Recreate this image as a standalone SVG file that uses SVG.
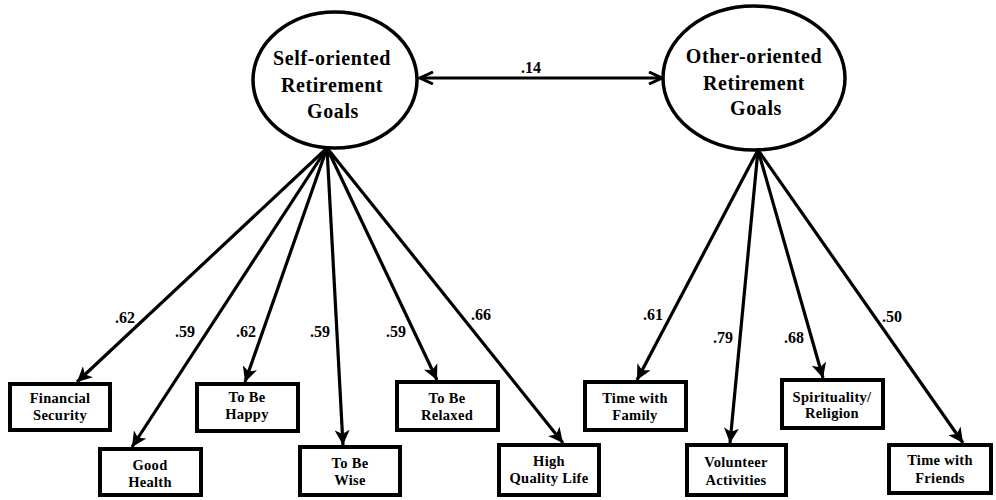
<svg xmlns="http://www.w3.org/2000/svg" width="996" height="500" viewBox="0 0 996 500">
<style>
.bg{fill:#fff}
.lat{fill:#fff;stroke:#000;stroke-width:3.5}
.box{fill:#fff;stroke:#000;stroke-width:4}
.lt{font-family:"Liberation Serif","Times New Roman",serif;font-weight:bold;font-size:20px;letter-spacing:0.6px;text-anchor:middle;fill:#000}
.bt{font-family:"Liberation Serif","Times New Roman",serif;font-weight:bold;font-size:14.5px;letter-spacing:0.3px;text-anchor:middle;fill:#000}
.cf{font-family:"Liberation Serif","Times New Roman",serif;font-weight:bold;font-size:16px;text-anchor:middle;fill:#000}
.ln{fill:none;stroke:#000;stroke-width:3.2}
</style>
<defs>
<marker id="ah" markerUnits="userSpaceOnUse" markerWidth="17" markerHeight="15" refX="15" refY="7.5" orient="auto">
<path d="M0,0 L15,7.5 L0,15 L4,7.5 z" fill="#000"/>
</marker>
<marker id="ahs" markerUnits="userSpaceOnUse" markerWidth="16" markerHeight="14" refX="14" refY="7" orient="auto-start-reverse">
<path d="M1,1 L14,7 L1,13" fill="none" stroke="#000" stroke-width="3"/>
</marker>
</defs>
<rect class="bg" width="996" height="500"/>
<g id="connectors">
<line class="ln" x1="420" y1="78" x2="662" y2="78" marker-start="url(#ahs)" marker-end="url(#ahs)"/>
<text class="cf" x="531" y="73">.14</text>
<line class="ln" x1="327" y1="148" x2="77" y2="382" marker-end="url(#ah)"/>
<line class="ln" x1="327" y1="148" x2="132" y2="447" marker-end="url(#ah)"/>
<line class="ln" x1="327" y1="148" x2="245" y2="382" marker-end="url(#ah)"/>
<line class="ln" x1="327" y1="148" x2="343" y2="445" marker-end="url(#ah)"/>
<line class="ln" x1="327" y1="148" x2="437" y2="380" marker-end="url(#ah)"/>
<line class="ln" x1="327" y1="148" x2="563" y2="443" marker-end="url(#ah)"/>
<line class="ln" x1="758" y1="150" x2="637" y2="380" marker-end="url(#ah)"/>
<line class="ln" x1="758" y1="150" x2="730" y2="443" marker-end="url(#ah)"/>
<line class="ln" x1="758" y1="150" x2="823" y2="378" marker-end="url(#ah)"/>
<line class="ln" x1="758" y1="150" x2="963" y2="443" marker-end="url(#ah)"/>
<text class="cf" x="125" y="323">.62</text>
<text class="cf" x="185" y="337">.59</text>
<text class="cf" x="246" y="337">.62</text>
<text class="cf" x="320" y="337">.59</text>
<text class="cf" x="396" y="337">.59</text>
<text class="cf" x="481" y="320">.66</text>
<text class="cf" x="653" y="320">.61</text>
<text class="cf" x="723" y="343">.79</text>
<text class="cf" x="794" y="343">.68</text>
<text class="cf" x="892" y="322">.50</text>
</g>
<g id="self">
<ellipse class="lat" cx="335" cy="80" rx="82" ry="68"/>
<text class="lt" x="332" y="65">Self-oriented</text>
<text class="lt" x="332" y="92">Retirement</text>
<text class="lt" x="333" y="118">Goals</text>
</g>
<g id="other">
<ellipse class="lat" cx="754" cy="78" rx="91" ry="72"/>
<text class="lt" x="754" y="63">Other-oriented</text>
<text class="lt" x="754" y="90">Retirement</text>
<text class="lt" x="756" y="115">Goals</text>
</g>
<g id="financial"><rect class="box" x="10" y="384" width="100" height="46"/><text class="bt" x="60" y="403">Financial</text><text class="bt" x="60" y="420">Security</text></g>
<g id="health"><rect class="box" x="100" y="449" width="101" height="46"/><text class="bt" x="150" y="470">Good</text><text class="bt" x="150" y="487">Health</text></g>
<g id="happy"><rect class="box" x="197" y="384" width="101" height="47"/><text class="bt" x="247" y="402">To Be</text><text class="bt" x="247" y="419">Happy</text></g>
<g id="wise"><rect class="box" x="300" y="447" width="100" height="48"/><text class="bt" x="350" y="468">To Be</text><text class="bt" x="350" y="485">Wise</text></g>
<g id="relaxed"><rect class="box" x="397" y="382" width="101" height="48"/><text class="bt" x="447" y="403">To Be</text><text class="bt" x="447" y="420">Relaxed</text></g>
<g id="quality"><rect class="box" x="499" y="445" width="100" height="50"/><text class="bt" x="549" y="466">High</text><text class="bt" x="549" y="483">Quality Life</text></g>
<g id="family"><rect class="box" x="585" y="382" width="101" height="48"/><text class="bt" x="635" y="403">Time with</text><text class="bt" x="635" y="420">Family</text></g>
<g id="volunteer"><rect class="box" x="687" y="445" width="99" height="50"/><text class="bt" x="736" y="467">Volunteer</text><text class="bt" x="736" y="485">Activities</text></g>
<g id="spirituality"><rect class="box" x="782" y="380" width="101" height="48"/><text class="bt" x="832" y="402">Spirituality/</text><text class="bt" x="832" y="418">Religion</text></g>
<g id="friends"><rect class="box" x="889" y="445" width="102" height="48"/><text class="bt" x="940" y="465">Time with</text><text class="bt" x="940" y="483">Friends</text></g>
</svg>
